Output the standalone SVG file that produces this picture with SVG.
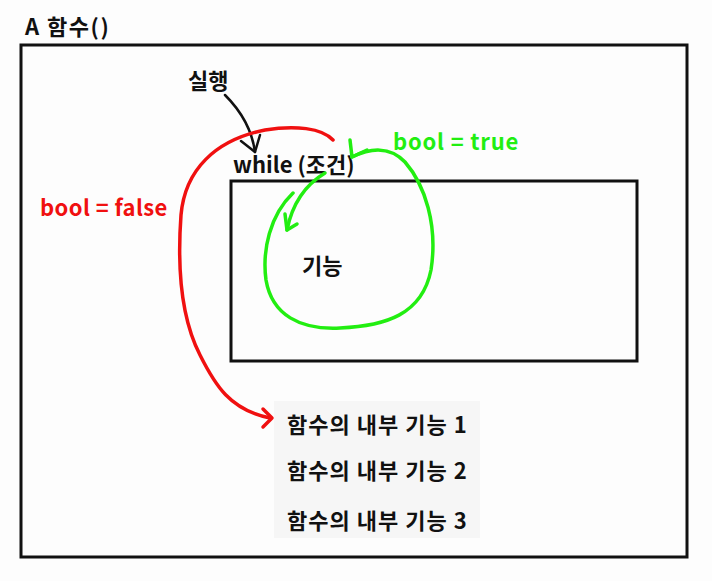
<svg xmlns="http://www.w3.org/2000/svg" width="712" height="581" viewBox="0 0 712 581">
<style>
text{font-family:"Noto Sans CJK KR","Noto Sans",sans-serif;font-weight:bold;font-size:22px;fill:#111}
.item{letter-spacing:1px}
.box{fill:none;stroke:#111;stroke-width:3}
.red{fill:none;stroke:#f01010;stroke-width:3.5;stroke-linecap:round;stroke-linejoin:round}
.grn{fill:none;stroke:#22ee11;stroke-width:3.5;stroke-linecap:round;stroke-linejoin:round}
.blk{fill:none;stroke:#111;stroke-width:2.5;stroke-linecap:round;stroke-linejoin:round}
</style>
<rect width="712" height="581" fill="#fdfdfd"/>
<g id="title"><text x="25" y="35" style="letter-spacing:1.5px">A 함수()</text></g>
<g id="outer"><rect class="box" x="21" y="45" width="666" height="512"/></g>
<g id="loop-body"><rect class="box" x="231" y="181" width="406" height="180"/></g>
<g id="run"><text x="188" y="89">실행</text></g>
<g id="while"><text x="233" y="173">while (조건)</text></g>
<g id="func"><text x="302" y="274">기능</text></g>
<g id="false-label"><text x="40" y="216" style="fill:#f01010;letter-spacing:0.4px">bool = false</text></g>
<g id="true-label"><text x="393" y="150" style="fill:#22ee11;letter-spacing:0.8px">bool = true</text></g>
<g id="inner-list">
<rect x="274" y="401" width="206" height="137" fill="#f6f6f6"/>
<text class="item" x="287" y="433">함수의 내부 기능 1</text>
<text class="item" x="287" y="479">함수의 내부 기능 2</text>
<text class="item" x="287" y="529">함수의 내부 기능 3</text>
</g>
<g id="connectors">
<path class="blk" d="M225,95 C240,110 252,130 255,152"/>
<path class="blk" d="M241,141 L255,152 L260,135"/>
<path class="red" d="M333,140 C322,128 295,125 265,130 C215,140 185,170 181,215 C177,270 182,320 200,355 C215,385 230,410 270,418"/>
<path class="red" d="M263,409 L272,418 L263,427"/>
<path class="grn" d="M293,193 C270,215 262,250 266,280 C272,315 300,330 340,328 C385,326 422,315 431,270 C438,225 425,185 405,162 C390,146 370,148 352,157"/>
<path class="grn" d="M350,140 L352,157 L367,150"/>
<path class="grn" d="M325,173 C305,185 292,205 287,230"/>
<path class="grn" d="M285,214 L287,230 L297,224"/>
</g>
</svg>
